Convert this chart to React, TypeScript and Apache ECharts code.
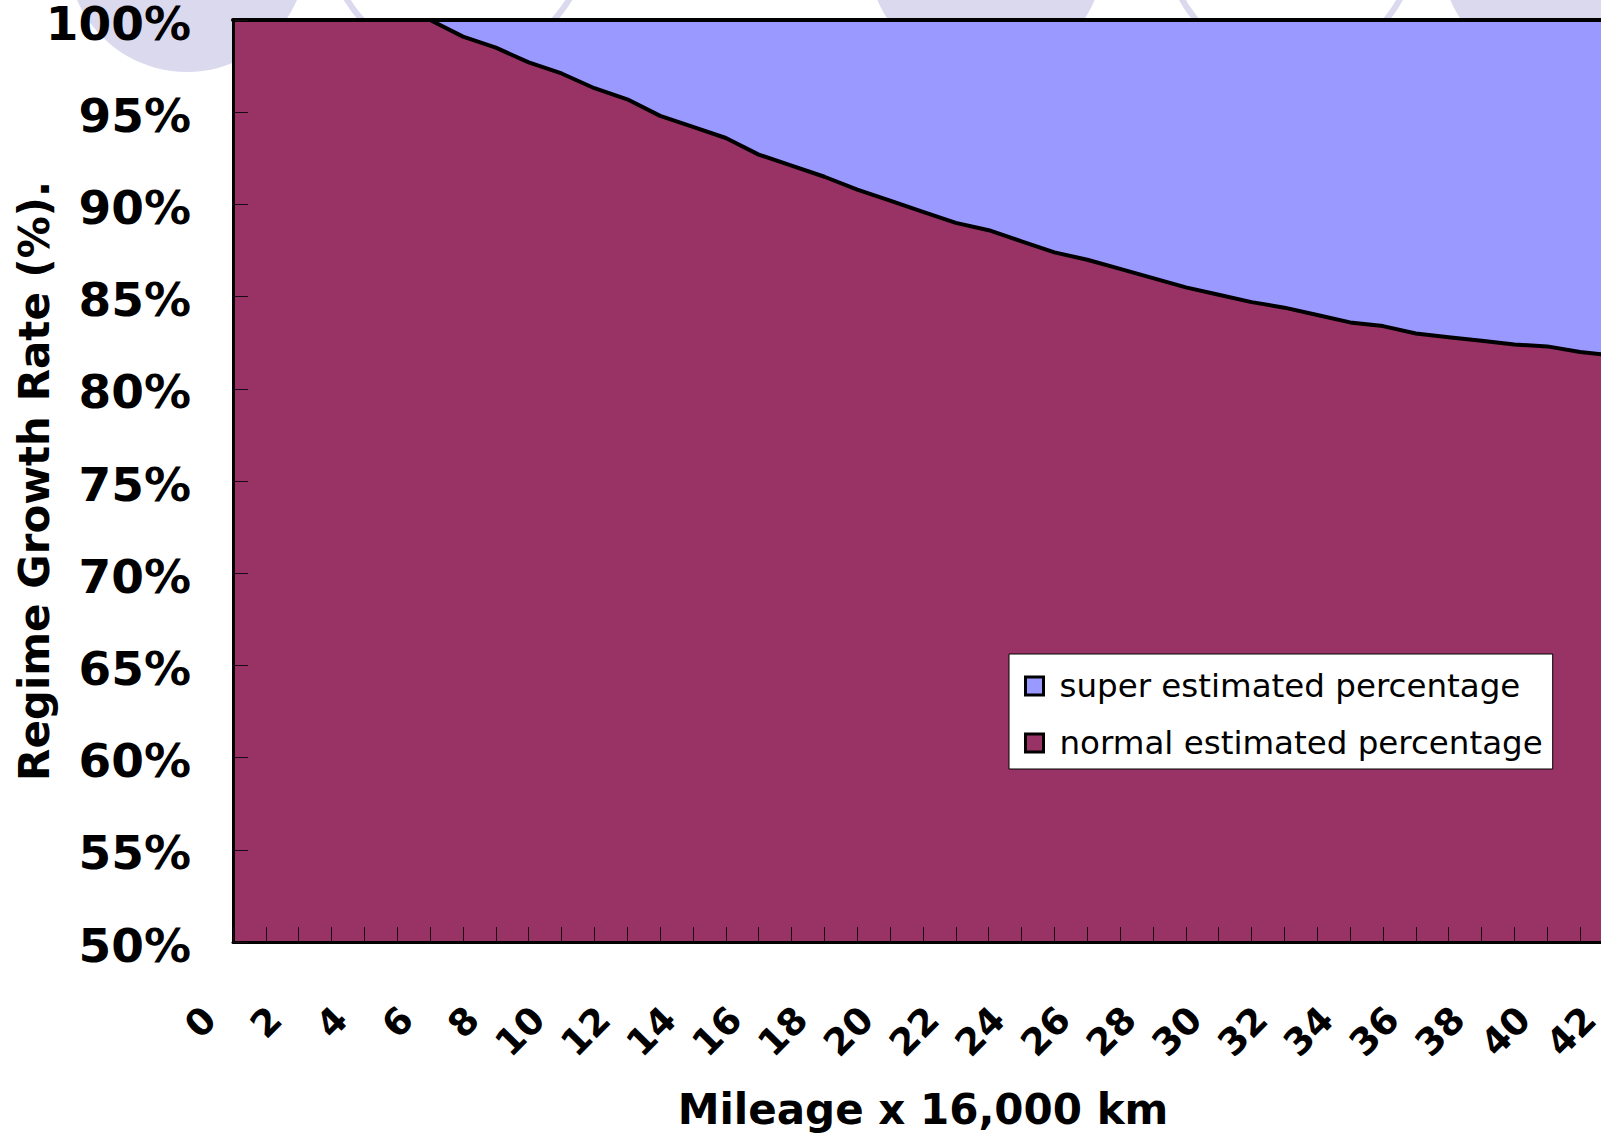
import React, { useEffect, useRef } from "react";
import * as echarts from "echarts";

const mileage = [
  "0", "1", "2", "3", "4", "5", "6", "7", "8", "9", "10", "11", "12", "13",
  "14", "15", "16", "17", "18", "19", "20", "21", "22", "23", "24", "25", "26",
  "27", "28", "29", "30", "31", "32", "33", "34", "35", "36", "37", "38", "39",
  "40", "41", "42",
];
const normalPct = [
  100, 100, 100, 100, 100, 100, 100, 99.1, 98.5, 97.7, 97.1, 96.3, 95.7, 94.8,
  94.2, 93.6, 92.7, 92.1, 91.5, 90.8, 90.2, 89.6, 89.0, 88.6, 88.0, 87.4, 87.0,
  86.5, 86.0, 85.5, 85.1, 84.7, 84.4, 84.0, 83.6, 83.4, 83.0, 82.8, 82.6, 82.4,
  82.3, 82.0, 81.8,
];
const superPct = [
  0, 0, 0, 0, 0, 0, 0, 0.9, 1.5, 2.3, 2.9, 3.7, 4.3, 5.2, 5.8, 6.4, 7.3, 7.9,
  8.5, 9.2, 9.8, 10.4, 11.0, 11.4, 12.0, 12.6, 13.0, 13.5, 14.0, 14.5, 14.9,
  15.3, 15.6, 16.0, 16.4, 16.6, 17.0, 17.2, 17.4, 17.6, 17.7, 18.0, 18.2,
];
const seriesNames = ["super estimated percentage", "normal estimated percentage"];
const yTitle = "Regime Growth Rate (%).";
const xTitle = "Mileage x 16,000 km";

const FONT = "DejaVu Sans";
const LAV = "#DBD9ED";

export default function App() {
  const ref = useRef<HTMLDivElement>(null);
  useEffect(() => {
    if (!ref.current) return;
    const chart = echarts.init(ref.current, null, { renderer: "svg" });
    const option: any = {
      animation: false,
      backgroundColor: "#fff",
      graphic: {
        elements: [
          { type: "circle", z: -10, shape: { cx: 187, cy: -48, r: 120 }, style: { fill: LAV } },
          { type: "circle", z: -10, shape: { cx: 986, cy: -46, r: 118 }, style: { fill: LAV } },
          { type: "circle", z: -10, shape: { cx: 1559, cy: -46, r: 118 }, style: { fill: LAV } },
          { type: "circle", z: -10, shape: { cx: 458, cy: -68, r: 130 }, style: { fill: "none", stroke: LAV, lineWidth: 6 } },
          { type: "circle", z: -10, shape: { cx: 1291, cy: -60, r: 124 }, style: { fill: "none", stroke: LAV, lineWidth: 6 } },
        ],
      },
      grid: {
        left: 233,
        top: 20,
        bottom: 191,
        right: -12,
        containLabel: false,
        outerBoundsMode: "none",
      },
      legend: {
        orient: "vertical",
        left: 1009,
        top: 654,
        itemWidth: 18,
        itemHeight: 18,
        itemGap: 21,
        padding: [14, 10, 8, 15],
        backgroundColor: "#fff",
        borderColor: "#000",
        borderWidth: 1,
        borderRadius: 0,
        icon: "rect",
        textStyle: {
          fontFamily: FONT,
          fontSize: 32.5,
          color: "#000",
          lineHeight: 36,
          padding: [0, 0, 0, 11],
        },
        data: [
          { name: seriesNames[0], itemStyle: { color: "#9999FF", borderColor: "#000", borderWidth: 3 } },
          { name: seriesNames[1], itemStyle: { color: "#993366", borderColor: "#000", borderWidth: 3 } },
        ],
      },
      xAxis: [
        {
          type: "category",
          data: mileage,
          boundaryGap: false,
          position: "bottom",
          z: 10,
          axisLine: { show: true, lineStyle: { color: "#000", width: 3 } },
          axisTick: { show: true, inside: true, interval: 0, length: 15, lineStyle: { color: "#1a0a14", width: 1 } },
          splitLine: { show: false },
          axisLabel: {
            interval: 1,
            rotate: 45,
            margin: 48,
            padding: [0, 33, 0, 0],
            fontFamily: FONT,
            fontWeight: "bold",
            fontSize: 37,
            color: "#000",
          },
          name: xTitle,
          nameLocation: "middle",
          nameGap: 146,
          nameMoveOverlap: false,
          nameTextStyle: { fontFamily: FONT, fontWeight: "bold", fontSize: 42, color: "#000" },
        },
        {
          type: "category",
          data: mileage,
          boundaryGap: false,
          position: "top",
          z: 10,
          axisLine: { show: true, lineStyle: { color: "#000", width: 4 } },
          axisTick: { show: false },
          axisLabel: { show: false },
          splitLine: { show: false },
        },
      ],
      yAxis: {
        type: "value",
        min: 50,
        max: 100,
        interval: 5,
        z: 10,
        axisLine: { show: true, lineStyle: { color: "#000", width: 3 } },
        axisTick: { show: true, inside: true, length: 15, lineStyle: { color: "#1a0a14", width: 1 } },
        splitLine: { show: false },
        axisLabel: {
          margin: 42,
          verticalAlign: "top",
          lineHeight: 6,
          fontFamily: FONT,
          fontWeight: "bold",
          fontSize: 47,
          color: "#000",
          formatter: "{value}%",
        },
        name: yTitle,
        nameLocation: "middle",
        nameGap: 178,
        nameRotate: 90,
        nameMoveOverlap: false,
        nameTextStyle: { fontFamily: FONT, fontWeight: "bold", fontSize: 42, color: "#000" },
      },
      series: [
        {
          name: seriesNames[1],
          type: "line",
          stack: "total",
          xAxisIndex: 0,
          showSymbol: false,
          symbol: "none",
          color: "#993366",
          itemStyle: { color: "#993366" },
          lineStyle: { color: "#000", width: 4 },
          areaStyle: { color: "#993366", opacity: 1 },
          data: normalPct,
          z: 3,
        },
        {
          name: seriesNames[0],
          type: "line",
          stack: "total",
          xAxisIndex: 0,
          showSymbol: false,
          symbol: "none",
          color: "#9999FF",
          itemStyle: { color: "#9999FF" },
          lineStyle: { color: "#000", width: 0 },
          areaStyle: { color: "#9999FF", opacity: 1 },
          data: superPct,
          z: 2,
        },
      ],
    };
    chart.setOption(option);
    return () => chart.dispose();
  }, []);
  return (
    <div
      ref={ref}
      style={{ position: "fixed", left: 0, top: 0, width: 1601, height: 1133, background: "#fff" }}
    />
  );
}
